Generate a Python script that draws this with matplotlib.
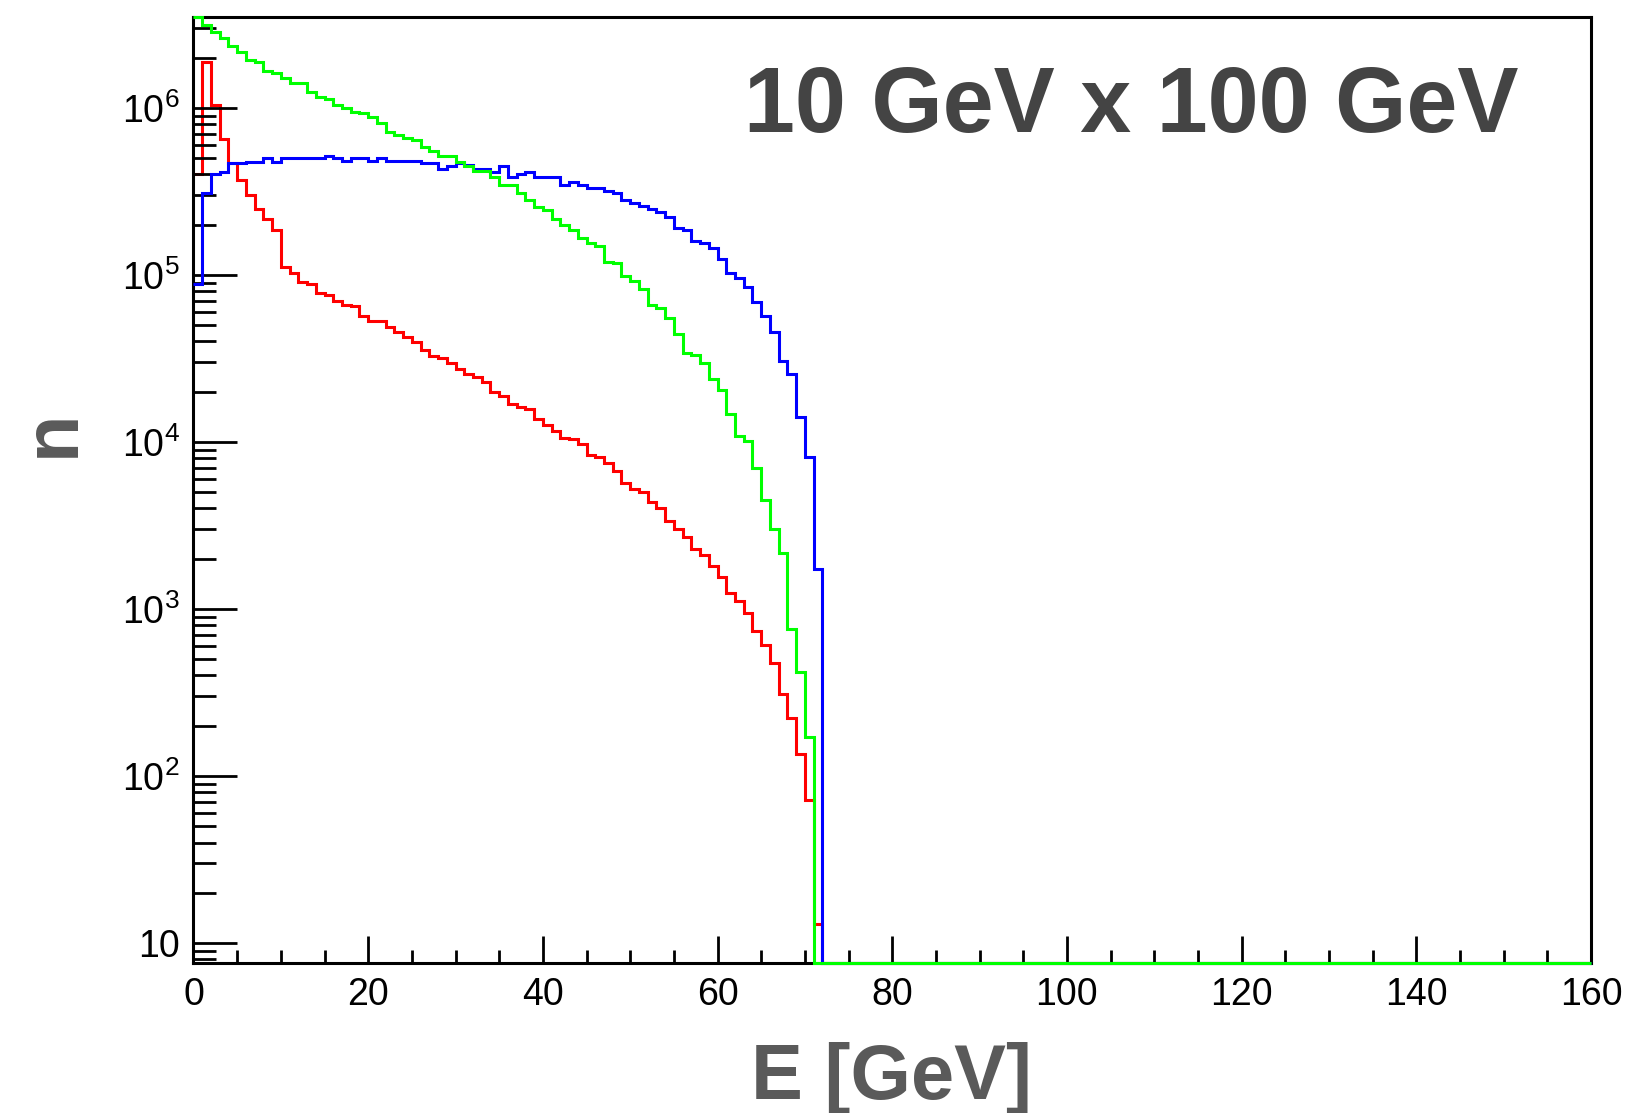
import numpy as np
import matplotlib
matplotlib.use("Agg")
import matplotlib.pyplot as plt
from matplotlib.ticker import MultipleLocator, LogLocator, FuncFormatter, NullFormatter, FixedLocator

plt.rcParams['font.family'] = ['Liberation Sans', 'DejaVu Sans']
plt.rcParams['mathtext.fontset'] = 'custom'
plt.rcParams['mathtext.rm'] = 'Liberation Sans'
plt.rcParams['mathtext.it'] = 'Liberation Sans:italic'
plt.rcParams['mathtext.bf'] = 'Liberation Sans:bold'

# ---------------- data (1 GeV bins, 0..160 GeV; bins after the listed ones are empty) -------------
bin_width = 1.0
n_bins = 160

red_counts = [
    4.0e5, 1.89e6, 1.04e6, 6.5e5, 4.67e5, 3.71e5, 2.99e5, 2.47e5, 2.16e5, 1.86e5,
    1.11e5, 1.03e5, 9.1e4, 8.8e4, 7.8e4, 7.6e4, 7.0e4, 6.6e4, 6.5e4, 5.7e4,
    5.31e4, 5.3e4, 4.9e4, 4.57e4, 4.24e4, 3.95e4, 3.56e4, 3.29e4, 3.17e4, 2.96e4,
    2.74e4, 2.55e4, 2.46e4, 2.27e4, 2.0e4, 1.88e4, 1.69e4, 1.63e4, 1.58e4, 1.37e4,
    1.26e4, 1.17e4, 1.05e4, 1.04e4, 9.7e3, 8.36e3, 8.17e3, 7.52e3, 6.73e3, 5.66e3,
    5.21e3, 5.04e3, 4.39e3, 4.04e3, 3.38e3, 3.01e3, 2.69e3, 2.28e3, 2.1e3, 1.82e3,
    1.55e3, 1.24e3, 1.12e3, 950, 742, 611, 474, 311, 224, 135,
    72, 13,
]

blue_counts = [
    8.8e4, 3.08e5, 4.0e5, 4.12e5, 4.67e5, 4.67e5, 4.77e5, 4.77e5, 5.0e5, 4.77e5,
    5.0e5, 5.0e5, 5.0e5, 5.0e5, 5.0e5, 5.18e5, 5.0e5, 4.8e5, 5.0e5, 5.0e5,
    4.82e5, 5.0e5, 4.82e5, 4.82e5, 4.82e5, 4.82e5, 4.67e5, 4.67e5, 4.32e5, 4.5e5,
    4.67e5, 4.56e5, 4.29e5, 4.29e5, 4.16e5, 4.5e5, 3.87e5, 4.03e5, 4.16e5, 3.86e5,
    3.86e5, 3.86e5, 3.46e5, 3.59e5, 3.45e5, 3.32e5, 3.32e5, 3.2e5, 3.1e5, 2.79e5,
    2.69e5, 2.59e5, 2.49e5, 2.39e5, 2.23e5, 1.92e5, 1.86e5, 1.6e5, 1.55e5, 1.45e5,
    1.25e5, 1.02e5, 9.55e4, 8.5e4, 6.87e4, 5.68e4, 4.57e4, 3.05e4, 2.54e4, 1.42e4,
    8.1e3, 1.73e3,
]

green_counts = [
    3.5e6, 3.14e6, 2.83e6, 2.61e6, 2.35e6, 2.15e6, 1.94e6, 1.87e6, 1.67e6, 1.62e6,
    1.51e6, 1.41e6, 1.41e6, 1.25e6, 1.16e6, 1.13e6, 1.04e6, 1.0e6, 9.4e5, 9.35e5,
    8.8e5, 8.1e5, 7.15e5, 6.9e5, 6.64e5, 6.43e5, 5.86e5, 5.53e5, 5.17e5, 5.15e5,
    4.75e5, 4.48e5, 4.2e5, 4.18e5, 3.87e5, 3.46e5, 3.45e5, 3.08e5, 2.79e5, 2.55e5,
    2.46e5, 2.15e5, 1.99e5, 1.85e5, 1.66e5, 1.55e5, 1.48e5, 1.19e5, 1.18e5, 9.9e4,
    9.2e4, 8.2e4, 6.6e4, 6.33e4, 5.5e4, 4.4e4, 3.4e4, 3.3e4, 2.96e4, 2.37e4,
    2.05e4, 1.47e4, 1.09e4, 1.01e4, 6.94e3, 4.5e3, 3.03e3, 2.17e3, 762, 420,
    171, 0,
]

x_ticks = [0, 20, 40, 60, 80, 100, 120, 140, 160]
y_ticks = [10, 1e2, 1e3, 1e4, 1e5, 1e6]
y_min, y_max = 7.6, 3.5e6

title_text = "10 GeV x 100 GeV"
x_label = "E [GeV]"
y_label = "n"

# ---------------- figure ----------------
def full(counts):
    arr = np.zeros(n_bins)
    arr[:len(counts)] = counts
    return arr

edges = np.arange(n_bins + 1) * bin_width

fig = plt.figure(figsize=(16.29, 11.13), dpi=100)
ax = fig.add_axes([0.11878, 0.13477, 0.85789, 0.84996])
ax.set_yscale('log')
ax.set_xlim(0, 160)
ax.set_ylim(y_min, y_max)

for counts, color, z in [(red_counts, '#ff0000', 1.2),
                         (blue_counts, '#0000ff', 3.0),
                         (green_counts, '#00ff00', 3.1)]:
    vals = np.clip(full(counts), y_min, y_max)
    ax.stairs(vals, edges, baseline=None, color=color, lw=2.2,
              zorder=z, clip_on=False)

# axes styling (ROOT-like)
for sp in ax.spines.values():
    sp.set_linewidth(2.2)
    sp.set_color('black')

ax.xaxis.set_major_locator(FixedLocator(x_ticks))
ax.xaxis.set_minor_locator(MultipleLocator(5))
ax.yaxis.set_major_locator(FixedLocator(y_ticks))
ax.yaxis.set_minor_locator(LogLocator(base=10, subs=np.arange(2, 10)))
ax.yaxis.set_minor_formatter(NullFormatter())

def ylab(v, pos):
    e = int(round(np.log10(v)))
    if e == 1:
        return "10"
    return r"$10^{%d}$" % e

ax.yaxis.set_major_formatter(FuncFormatter(ylab))
ax.xaxis.set_major_formatter(FuncFormatter(lambda v, p: "%d" % v))

ax.tick_params(axis='both', which='both', direction='in', top=False, right=False,
               width=2.0, color='black', labelsize=27, labelcolor='black')
ax.tick_params(axis='x', which='major', length=19.5, pad=10)
ax.tick_params(axis='x', which='minor', length=9.6)
ax.tick_params(axis='y', which='major', length=32, pad=10)
ax.tick_params(axis='y', which='minor', length=16.5)

ax.set_xlabel(x_label, fontsize=56, fontweight='bold', color='#5a5a5a')
ax.xaxis.set_label_coords(0.4991, -0.1438)
ax.xaxis.label.set_verticalalignment('baseline')

ax.set_ylabel(y_label, fontsize=56, fontweight='bold', color='#5a5a5a')
ax.yaxis.set_label_coords(-0.1002, 0.5597)
ax.yaxis.label.set_verticalalignment('center')

fig.text(0.6943, 1 - 132 / 1113, title_text, fontsize=66, fontweight='bold',
         color='#444444', ha='center', va='baseline')

fig.savefig('out.png', dpi=100)
